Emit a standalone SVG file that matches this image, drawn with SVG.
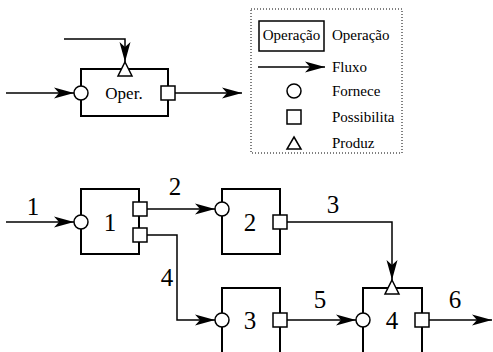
<svg xmlns="http://www.w3.org/2000/svg" width="493" height="352" viewBox="0 0 493 352">
  <defs>
    <marker id="arrow" markerUnits="userSpaceOnUse" viewBox="0 0 20 12" refX="20" refY="6" markerWidth="20" markerHeight="12" orient="auto">
      <path d="M0,0.5 L20,6 L0,11.5 L5,6 Z" fill="#000"/>
    </marker>
  </defs>
  <style>
    .box { fill: #fff; stroke: #000; stroke-width: 2; }
    .port { fill: #fff; stroke: #000; stroke-width: 1.5; }
    .flow { fill: none; stroke: #000; stroke-width: 1.5; marker-end: url(#arrow); }
    text { font-family: 'Liberation Serif', 'DejaVu Serif', serif; fill: #000; }
    .lbl { font-size: 15px; }
    .num { font-size: 25px; text-anchor: middle; }
    .mid { text-anchor: middle; }
  </style>

  <!-- connectors -->
  <g id="connectors">
    <path class="flow" d="M6,93 H74"/>
    <path class="flow" d="M175,93 H242"/>
    <path class="flow" d="M64,39 H125 V62"/>
    <path class="flow" d="M6,222 H74"/>
    <path class="flow" d="M147,209 H215"/>
    <path class="flow" d="M147,235 H177 V320 H215"/>
    <path class="flow" d="M287,222 H392 V280"/>
    <path class="flow" d="M287,320 H356"/>
    <path class="flow" d="M429,320 H492"/>
    <text class="num" x="33" y="215">1</text>
    <text class="num" x="175" y="195">2</text>
    <text class="num" x="333" y="213">3</text>
    <text class="num" x="167" y="286">4</text>
    <text class="num" x="320" y="308">5</text>
    <text class="num" x="455" y="308">6</text>
  </g>

  <!-- generic operation -->
  <g id="oper">
    <rect class="box" x="81" y="69" width="87" height="47"/>
    <circle class="port" cx="81" cy="93" r="7"/>
    <rect class="port" x="161" y="86" width="14" height="14"/>
    <path class="port" d="M125,62 L132,76 L118,76 Z"/>
    <text class="mid" x="124" y="99" font-size="17">Oper.</text>
  </g>

  <!-- legend -->
  <g id="legend">
    <rect x="251" y="9" width="151" height="144" fill="none" stroke="#000" stroke-width="1" stroke-dasharray="1,2"/>
    <rect x="259" y="21" width="65" height="30" fill="#fff" stroke="#000" stroke-width="1.5"/>
    <text class="lbl mid" x="291.5" y="40">Operação</text>
    <text class="lbl" x="332" y="40">Operação</text>
    <path class="flow" d="M258,67 H325"/>
    <text class="lbl" x="332" y="72">Fluxo</text>
    <circle class="port" cx="294" cy="91" r="7"/>
    <text class="lbl" x="332" y="96">Fornece</text>
    <rect class="port" x="287" y="110" width="14" height="14"/>
    <text class="lbl" x="332" y="122">Possibilita</text>
    <path class="port" d="M294,137 L301,149 L287,149 Z"/>
    <text class="lbl" x="332" y="148">Produz</text>
  </g>

  <!-- operations 1..4 -->
  <g id="op1">
    <rect class="box" x="81" y="189" width="58" height="65"/>
    <circle class="port" cx="81" cy="222" r="7"/>
    <rect class="port" x="133" y="202" width="14" height="14"/>
    <rect class="port" x="133" y="228" width="14" height="14"/>
    <text class="num" x="110" y="231">1</text>
  </g>
  <g id="op2">
    <rect class="box" x="222" y="189" width="58" height="65"/>
    <circle class="port" cx="222" cy="209" r="7"/>
    <rect class="port" x="273" y="215" width="14" height="14"/>
    <text class="num" x="250" y="231">2</text>
  </g>
  <g id="op3">
    <rect class="box" x="222" y="288" width="58" height="70"/>
    <circle class="port" cx="222" cy="320" r="7"/>
    <rect class="port" x="273" y="313" width="14" height="14"/>
    <text class="num" x="250" y="329">3</text>
  </g>
  <g id="op4">
    <rect class="box" x="363" y="288" width="59" height="70"/>
    <circle class="port" cx="363" cy="320" r="7"/>
    <rect class="port" x="415" y="313" width="14" height="14"/>
    <path class="port" d="M392,280 L399,294 L385,294 Z"/>
    <text class="num" x="392" y="329">4</text>
  </g>
</svg>
